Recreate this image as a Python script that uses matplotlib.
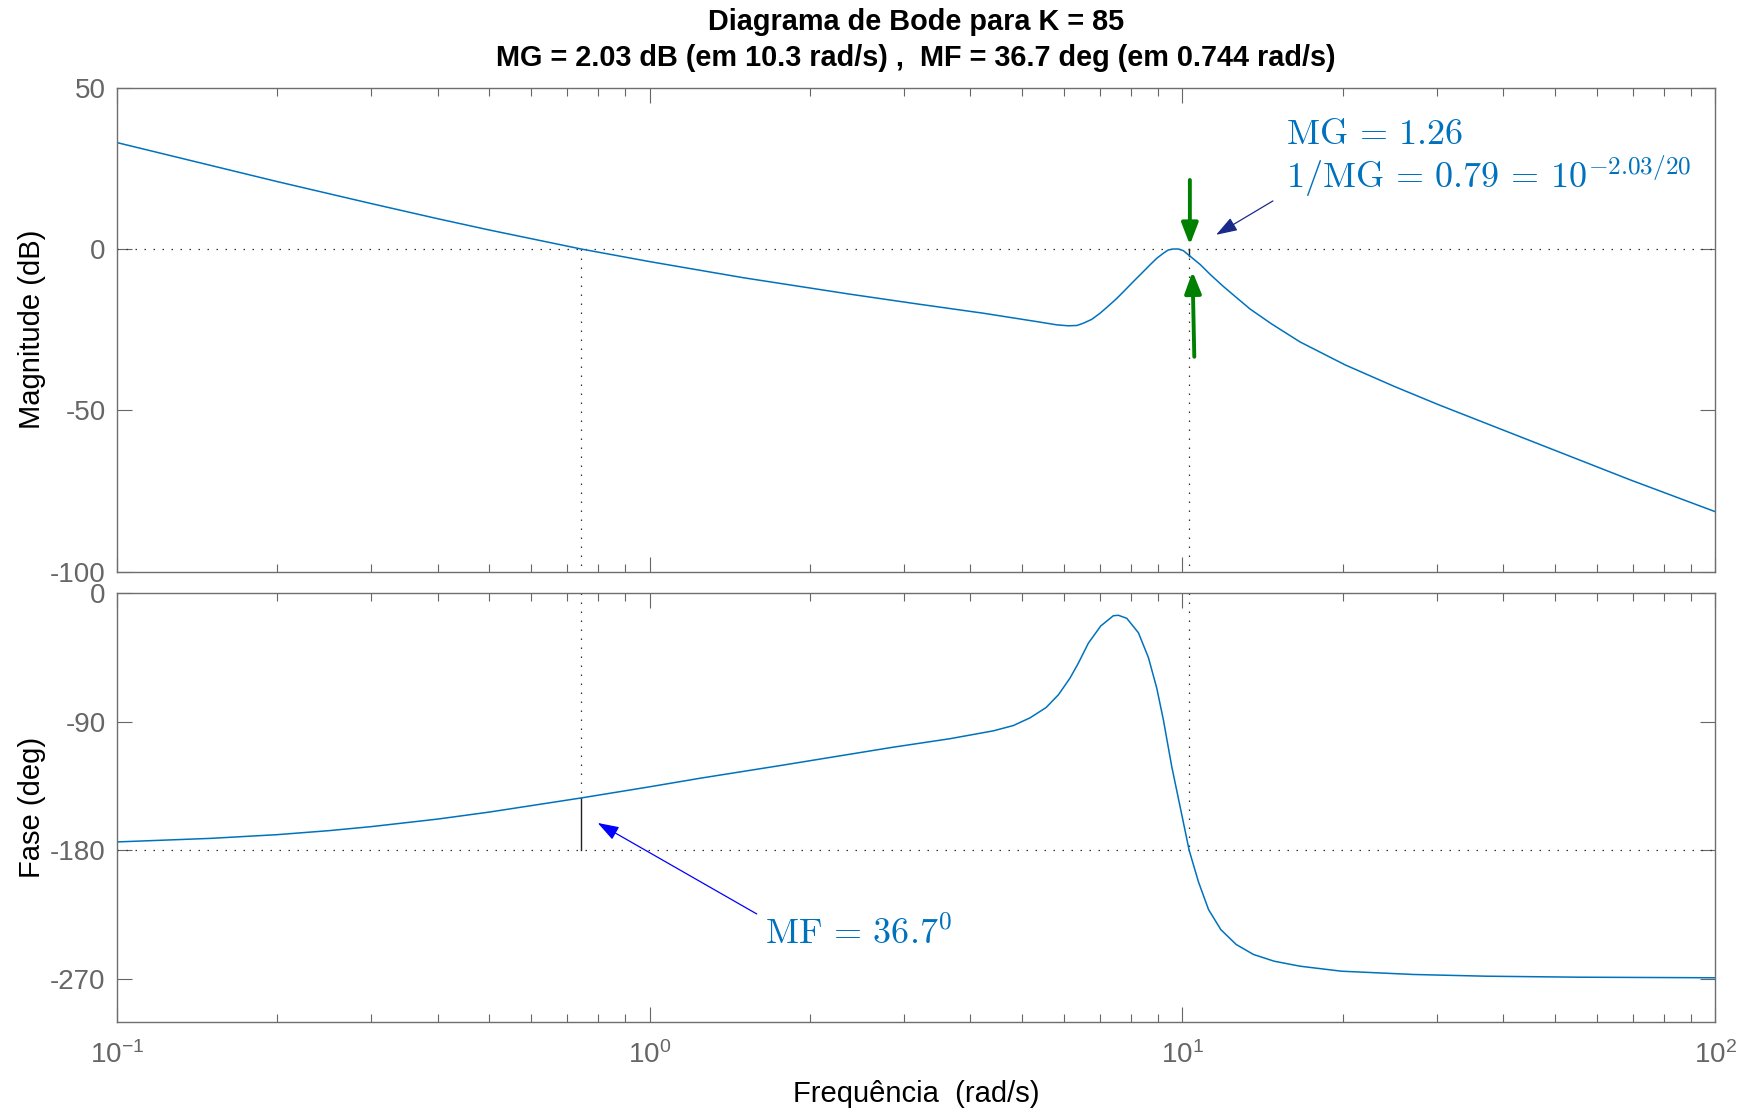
import matplotlib
matplotlib.use("Agg")
import matplotlib.pyplot as plt
from matplotlib.ticker import LogLocator, NullLocator, NullFormatter

plt.rcParams["font.family"] = ["Liberation Sans", "DejaVu Sans"]
plt.rcParams["mathtext.fontset"] = "cm"
plt.rcParams["axes.unicode_minus"] = False

# margins
K = 85
GM_DB, W_GM = 2.03, 10.3
PM_DEG, W_PM = 36.7, 0.744

# magnitude curve (rad/s, dB)
freq_mag = [0.1, 0.2, 0.3, 0.4, 0.5, 0.744, 1.0, 1.5, 2.378, 3.172, 4.231, 5.331,
            5.81, 6.11, 6.34, 6.52, 6.76, 7.008, 7.26, 7.534, 7.81, 8.091, 8.39,
            8.697, 8.95, 9.213, 9.41, 9.6, 9.83, 10.04, 10.3, 10.8, 11.3, 11.9,
            12.5, 13.4, 14.7, 16.63, 20.2, 25.0, 30.3, 48.8, 69.4, 100.0]
mag_db = [33.0, 20.9, 14.1, 9.4, 5.9, 0.0, -3.9, -8.9, -14.0, -17.0, -19.9, -22.5,
          -23.5, -23.8, -23.7, -23.0, -21.8, -19.9, -17.7, -15.3, -12.7, -10.1, -7.5,
          -4.9, -2.9, -1.3, -0.3, 0.0, 0.0, -0.5, -2.0, -4.8, -8.0, -11.4,
          -14.4, -18.6, -23.2, -28.8, -35.9, -42.6, -48.3, -61.7, -71.6, -81.4]

# phase curve (rad/s, deg)
freq_phase = [0.1, 0.15, 0.2, 0.25, 0.3, 0.4, 0.5, 0.744, 1.0, 1.244, 1.76, 2.85,
              3.665, 4.419, 4.817, 5.178, 5.549, 5.852, 6.153, 6.378, 6.66, 7.027,
              7.422, 7.585, 7.864, 8.27, 8.636, 8.953, 9.213, 9.552, 9.901, 10.3,
              10.72, 11.2, 11.81, 12.62, 13.6, 14.87, 16.63, 19.88, 27.16, 37.13,
              55.5, 100.0]
phase_deg = [-174.1, -171.6, -169.0, -166.2, -163.4, -158.1, -153.2, -143.3, -135.5,
             -129.5, -120.6, -107.9, -101.8, -96.3, -92.6, -87.2, -80.0, -71.1, -59.4,
             -49.0, -35.0, -22.9, -15.7, -15.4, -17.5, -27.6, -45.0, -66.4, -88.6,
             -121.3, -149.2, -180.0, -202.0, -221.5, -235.5, -245.9, -252.9, -257.6,
             -261.1, -264.6, -266.9, -268.1, -268.8, -269.2]

mag_ticks = [-100, -50, 0, 50]
phase_ticks = [-270, -180, -90, 0]

LINE = "#0072BD"
GRAY = "#666666"
DOT = dict(color="#333333", lw=0.9, linestyle=(0, (1.2, 6)))


def style_axes(ax):
    ax.set_xscale("log")
    ax.set_xlim(0.1, 100)
    ax.xaxis.set_major_locator(LogLocator(base=10, numticks=10))
    ax.xaxis.set_minor_locator(LogLocator(base=10, subs=range(2, 10), numticks=20))
    ax.xaxis.set_minor_formatter(NullFormatter())
    ax.yaxis.set_minor_locator(NullLocator())
    ax.tick_params(which="both", direction="in", top=True, right=True,
                   colors=GRAY, labelsize=20)
    ax.tick_params(which="major", length=11, width=0.8)
    ax.tick_params(which="minor", length=6, width=0.8)
    ax.tick_params(axis="y", pad=8)
    ax.tick_params(axis="x", pad=14)
    for sp in ax.spines.values():
        sp.set_color("#6e6e6e")
        sp.set_linewidth(1.0)


fig = plt.figure(figsize=(17.48, 11.10), dpi=100)
ax1 = fig.add_axes([0.0668, 0.4850, 0.9144, 0.4360])
ax2 = fig.add_axes([0.0668, 0.0795, 0.9144, 0.3860])

# --- magnitude
style_axes(ax1)
ax1.set_ylim(-100, 50)
ax1.set_yticks(mag_ticks)
ax1.tick_params(labelbottom=False)
ax1.axhline(0, **DOT)
ax1.plot([W_PM, W_PM], [0, -100], **DOT)
ax1.plot([W_GM, W_GM], [0, -100], **DOT)
ax1.plot([W_GM, W_GM], [0, -GM_DB], color="#222222", lw=1.0)
ax1.plot(freq_mag, mag_db, color=LINE, lw=1.1)
ax1.set_ylabel("Magnitude (dB)", fontsize=21)
ax1.yaxis.set_label_coords(-0.044, 0.5)

green = dict(arrowstyle="-|>,head_length=0.65,head_width=0.25", color="#008000",
             lw=2.8, mutation_scale=20, shrinkA=0, shrinkB=0)
ax1.annotate("", xy=(10.33, 1.3), xytext=(10.33, 21.4), arrowprops=green)
ax1.annotate("", xy=(10.45, -7.0), xytext=(10.53, -33.4), arrowprops=green)
ax1.annotate("", xy=(11.57, 4.4), xytext=(14.79, 14.9),
             arrowprops=dict(arrowstyle="-|>,head_length=0.65,head_width=0.22",
                             color="#1a2a8a", lw=0.9, mutation_scale=20,
                             shrinkA=0, shrinkB=0))
ax1.text(15.68, 32.5, r"$\mathrm{MG}\,=\,1.26$", color=LINE, fontsize=26,
         va="baseline", ha="left")
ax1.text(15.68, 18.8, r"$1/\mathrm{MG}\,=\,0.79\,=\,10^{-2.03/20}$", color=LINE,
         fontsize=26, va="baseline", ha="left")

# --- phase
style_axes(ax2)
ax2.set_ylim(-300, 0)
ax2.set_yticks(phase_ticks)
ax2.axhline(-180, **DOT)
ax2.plot([W_PM, W_PM], [0, -180 + PM_DEG], **DOT)
ax2.plot([W_GM, W_GM], [0, -180], **DOT)
ax2.plot([W_PM, W_PM], [-180, -180 + PM_DEG], color="#222222", lw=1.0)
ax2.plot(freq_phase, phase_deg, color=LINE, lw=1.1)
ax2.set_ylabel("Fase (deg)", fontsize=21)
ax2.yaxis.set_label_coords(-0.044, 0.5)
ax2.annotate("", xy=(0.7993, -160.8), xytext=(1.589, -224.5),
             arrowprops=dict(arrowstyle="-|>,head_length=0.65,head_width=0.22",
                             color="#0000ff", lw=0.9, mutation_scale=20,
                             shrinkA=0, shrinkB=0))
ax2.text(1.648, -245.9, r"$\mathrm{MF}\,=\,36.7^0$", color=LINE, fontsize=26,
         va="baseline", ha="left")

fig.text(0.524, 0.0075, "Frequência  (rad/s)", fontsize=21, ha="center",
         va="baseline")
fig.text(0.524, 0.9730, f"Diagrama de Bode para K = {K}", fontsize=20.8,
         fontweight="bold", ha="center", va="baseline")
fig.text(0.524, 0.9405,
         f"MG = {GM_DB} dB (em {W_GM} rad/s) ,  MF = {PM_DEG} deg (em {W_PM} rad/s)",
         fontsize=20.8, fontweight="bold", ha="center", va="baseline")

fig.savefig("out.png", dpi=100)
